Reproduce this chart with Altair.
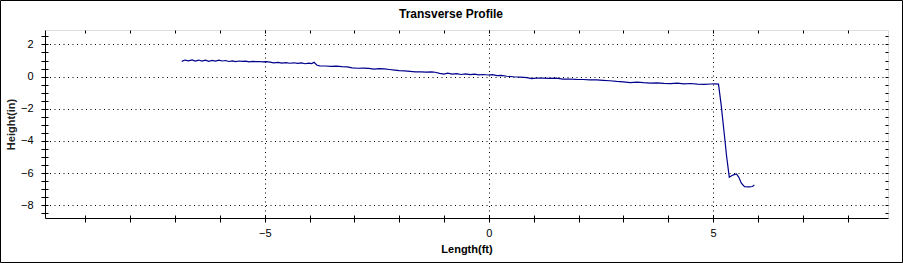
import altair as alt
import pandas as pd

# ---- data ----
LENGTH_FT = [
    -6.85, -6.78, -6.70, -6.62, -6.55, -6.47, -6.40, -6.32, -6.25, -6.17, -6.10, -6.02,
    -5.95, -5.87, -5.80, -5.72, -5.65, -5.57, -5.50, -5.42, -5.35, -5.27, -5.20, -5.12,
    -5.05, -4.97,
    -4.88, -4.80, -4.70, -4.62, -4.52, -4.45, -4.35, -4.27, -4.18, -4.10, -4.02, -3.95,
    -3.90, -3.84,
    -3.78, -3.65, -3.52, -3.40, -3.28, -3.16,
    -3.05, -2.92, -2.80, -2.68, -2.56, -2.45, -2.33, -2.22, -2.10,
    -2.00, -1.88, -1.76, -1.64, -1.52, -1.40, -1.28, -1.20,
    -1.10, -1.00, -0.92, -0.82, -0.72, -0.62, -0.52, -0.42, -0.32, -0.22, -0.12, -0.02,
    0.08, 0.18, 0.28,
    0.40, 0.55, 0.70, 0.85, 0.95, 1.05, 1.20, 1.35, 1.50, 1.65, 1.80, 1.95, 2.10, 2.25,
    2.40, 2.55, 2.70,
    2.85, 3.00, 3.15, 3.30, 3.45, 3.60, 3.75, 3.90, 4.05, 4.20, 4.35, 4.50, 4.65, 4.80,
    4.95, 5.05, 5.12,
    5.18, 5.25, 5.30, 5.36, 5.42, 5.47, 5.52, 5.57, 5.63, 5.70, 5.80, 5.88, 5.92,
]
HEIGHT_IN = [
    0.95, 1.03, 0.98, 1.04, 0.97, 1.03, 0.97, 1.02, 0.95, 1.01, 0.96, 1.02,
    0.97, 1.00, 0.94, 0.98, 0.93, 0.97, 0.95, 0.96, 0.92, 0.95, 0.93, 0.94,
    0.92, 0.93,
    0.90, 0.86, 0.89, 0.84, 0.87, 0.83, 0.86, 0.82, 0.85, 0.80, 0.84, 0.81,
    0.89, 0.72,
    0.67, 0.66, 0.64, 0.65, 0.62, 0.61,
    0.54, 0.52, 0.53, 0.51, 0.46, 0.50, 0.48, 0.44, 0.40,
    0.37, 0.36, 0.33, 0.30, 0.29, 0.28, 0.29, 0.27,
    0.20, 0.16, 0.21, 0.15, 0.18, 0.13, 0.17, 0.12, 0.15, 0.11, 0.13, 0.10,
    0.12, 0.06, 0.07,
    0.02, -0.01, -0.03, -0.06, -0.13, -0.09, -0.10, -0.11, -0.09, -0.16, -0.15, -0.17,
    -0.18, -0.20, -0.21, -0.23, -0.26,
    -0.30, -0.33, -0.37, -0.35, -0.38, -0.40, -0.39, -0.42, -0.44, -0.41, -0.45, -0.43,
    -0.47, -0.49, -0.46, -0.45, -0.47,
    -1.78, -3.60, -4.94, -6.26, -6.15, -6.10, -6.06, -6.25, -6.63, -6.85, -6.86, -6.84, -6.74,
]

X_TICKS = [-9, -8, -7, -6, -5, -4, -3, -2, -1, 0, 1, 2, 3, 4, 5, 6, 7, 8]
Y_TICKS = [-8.5, -8, -7.5, -7, -6.5, -6, -5.5, -5, -4.5, -4, -3.5, -3, -2.5, -2, -1.5,
           -1, -0.5, 0, 0.5, 1, 1.5, 2, 2.5]
X_DOMAIN = [-9.9, 8.9]
Y_DOMAIN = [-8.8, 2.9]

TITLE = "Transverse Profile"
X_TITLE = "Length(ft)"
Y_TITLE = "Height(in)"

df = pd.DataFrame({"length": LENGTH_FT, "height": HEIGHT_IN})

FONT = "Liberation Sans"
xscale = alt.Scale(domain=X_DOMAIN, nice=False, zero=False)
yscale = alt.Scale(domain=Y_DOMAIN, nice=False, zero=False)

grid_x = {"condition": {"test": "datum.value % 5 === 0", "value": 1}, "value": 0}
grid_y = {"condition": {"test": "datum.value % 2 === 0", "value": 1}, "value": 0}

main = alt.Chart(df).mark_line(color="#00008c", strokeWidth=1.2).encode(
    x=alt.X("length:Q", scale=xscale, title=X_TITLE,
            axis=alt.Axis(values=X_TICKS, orient="bottom",
                          labelExpr="datum.value % 5 === 0 ? format(datum.value, 'd') : ''",
                          grid=True, gridOpacity=grid_x, gridColor="black",
                          gridDash=[1, 3.5], gridWidth=1,
                          tickSize=4, tickColor="black", domainColor="black",
                          labelPadding=5, labelFontSize=11, labelColor="black",
                          labelFont=FONT, titleFont=FONT, titleFontSize=11,
                          titleFontWeight="bold", titleColor="black",
                          titlePadding=5)),
    y=alt.Y("height:Q", scale=yscale, title=Y_TITLE,
            axis=alt.Axis(values=Y_TICKS, orient="left",
                          labelExpr="datum.value % 2 === 0 ? format(datum.value, 'd') : ''",
                          grid=True, gridOpacity=grid_y, gridColor="black",
                          gridDash=[1, 3.5], gridWidth=1,
                          tickSize=4, tickColor="black", domainColor="black",
                          labelPadding=8, labelFontSize=11, labelColor="black",
                          labelFont=FONT, titleFont=FONT, titleFontSize=11,
                          titleFontWeight="bold", titleColor="#222222",
                          titlePadding=4)),
)


def tick_axis(orient, values):
    return alt.Axis(values=values, orient=orient, offset=-3, tickSize=3,
                    tickColor="black", domain=False, labels=False, grid=False)


mirror = alt.Chart(df).mark_line(opacity=0).encode(
    x=alt.X("length:Q", scale=xscale, title=None, axis=tick_axis("top", X_TICKS)),
    y=alt.Y("height:Q", scale=yscale, title=None, axis=tick_axis("right", Y_TICKS)),
)
inner = alt.Chart(df).mark_line(opacity=0).encode(
    x=alt.X("length:Q", scale=xscale, title=None, axis=tick_axis("bottom", X_TICKS)),
    y=alt.Y("height:Q", scale=yscale, title=None, axis=tick_axis("left", Y_TICKS)),
)

one = pd.DataFrame({"k": [0]})
border = alt.Chart(one).mark_rect(
    fillOpacity=0, stroke="black", strokeWidth=1
).encode(
    x=alt.value(-44.5), x2=alt.value(857.5), y=alt.value(-29.5), y2=alt.value(232.5)
)
title = alt.Chart(one).mark_text(
    text=TITLE, font=FONT, fontSize=12, fontWeight="bold", color="black",
    align="center", baseline="bottom"
).encode(x=alt.value(406), y=alt.value(-9))

chart = alt.layer(main, mirror, inner, border, title).resolve_axis(
    x="independent", y="independent"
).properties(
    width=843, height=188,
    autosize=alt.AutoSizeParams(type="none"),
    padding={"left": 45, "top": 30, "right": 15, "bottom": 45},
).configure_view(stroke="black", strokeWidth=1).configure(background="white")

chart.save("out.html", embed_options={"renderer": "svg", "actions": False})
